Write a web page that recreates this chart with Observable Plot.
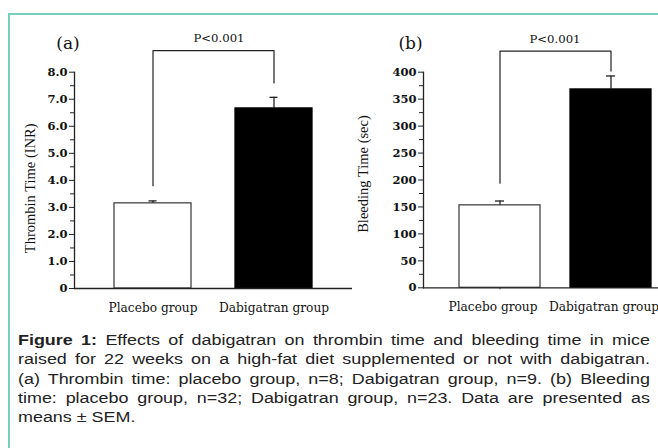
<!DOCTYPE html>
<html>
<head>
<meta charset="utf-8">
<script src="https://cdn.jsdelivr.net/npm/d3@7"></script>
<script src="https://cdn.jsdelivr.net/npm/@observablehq/plot@0.6"></script>
<style>
  html, body { margin: 0; padding: 0; background: #fff; }
  #page { position: relative; width: 658px; height: 448px; overflow: hidden; background: #fff; }
  #box { position: absolute; left: 8px; top: 13px; width: 720px; height: 500px; border-top: 2px solid #74cfbf; border-left: 2px solid #74cfbf; }
  .panel { position: absolute; top: 0; }
  #caption { position: absolute; left: 18px; top: 331px; width: 493.7px; transform: scale(1.28, 1); transform-origin: 0 0; font-family: "Liberation Sans", Arial, sans-serif; font-size: 14px; line-height: 19.3px; color: #222; }
  #caption div { text-align: justify; text-align-last: justify; white-space: nowrap; }
  #caption div.last { text-align-last: left; }
</style>
</head>
<body>
<div id="page">
  <div id="box"></div>
  <div id="panelA" class="panel" style="left:0px"></div>
  <div id="panelB" class="panel" style="left:330px"></div>
  <div id="caption"></div>
</div>
<script>
// ---- data ----
const groups = ["Placebo group", "Dabigatran group"];
const thrombinMean = [3.15, 6.66];
const thrombinSem = [0.09, 0.41];
const bleedingMean = [153, 368];
const bleedingSem = [8, 25];
const thrombinTicks = [0, 1, 2, 3, 4, 5, 6, 7, 8];
const thrombinMinor = [0.5, 1.5, 2.5, 3.5, 4.5, 5.5, 6.5, 7.5];
const bleedingTicks = [0, 50, 100, 150, 200, 250, 300, 350, 400];
const bleedingMinor = [25, 75, 125, 175, 225, 275, 325, 375];
const bracketA = [3.8, 8.8, 7.6];   // left foot, top, right foot
const bracketB = [194, 439, 402];
const pLabel = "P<0.001";
const pLabelYA = 9.25;
const pLabelYB = 462;
const yLabelA = "Thrombin Time (INR)";
const yLabelB = "Bleeding Time (sec)";
const captionLines = [
  "<b>Figure 1:</b> Effects of dabigatran on thrombin time and bleeding time in mice",
  "raised for 22 weeks on a high-fat diet supplemented or not with dabigatran.",
  "(a) Thrombin time: placebo group, n=8; Dabigatran group, n=9. (b) Bleeding",
  "time: placebo group, n=32; Dabigatran group, n=23. Data are presented as",
  "means ± SEM."
];

const serif = "DejaVu Serif";
const ink = "#111";

function panel(opts) {
  const rows = groups.map((g, i) => ({group: g, mean: opts.mean[i], sem: opts.sem[i], hi: opts.mean[i] + opts.sem[i], i}));
  const br = [
    {group: groups[0], y: opts.bracket[0]},
    {group: groups[0], y: opts.bracket[1]},
    {group: groups[1], y: opts.bracket[1]},
    {group: groups[1], y: opts.bracket[2]}
  ];
  return Plot.plot({
    width: opts.width,
    height: 320,
    marginLeft: opts.marginLeft,
    marginRight: opts.marginRight,
    marginTop: opts.marginTop,
    marginBottom: opts.marginBottom,
    style: {fontFamily: serif, fontSize: "11px", color: ink, background: "transparent", overflow: "visible"},
    x: {domain: groups, paddingInner: opts.pi, paddingOuter: opts.po, align: opts.align, axis: null},
    y: {domain: opts.yDomain, axis: null},
    marks: [
      Plot.barY(rows, {x: "group", y: "mean", fill: d => d.i === 0 ? "white" : "black", stroke: d => d.i === 0 ? "#444" : "black", strokeWidth: 1.3}),
      Plot.ruleX(rows, {x: "group", y1: "mean", y2: "hi", stroke: "#222", strokeWidth: 1.3}),
      Plot.tickY(rows, {x: "group", y: "hi", stroke: "#222", strokeWidth: 1.3, insetLeft: opts.capInset, insetRight: opts.capInset}),
      Plot.frame({anchor: "left", stroke: "#222", strokeWidth: 1.3}),
      Plot.ruleY([0], {stroke: "#222", strokeWidth: 1.3}),
      Plot.axisY({ticks: opts.ticks, tickSize: 5, tickPadding: 2, tickFormat: opts.fmt, fontWeight: "bold", fontSize: 11.5, fontFamily: serif, stroke: "#222", label: null}),
      Plot.axisY({ticks: opts.minor, tickSize: 4, tickFormat: () => "", stroke: "#222", label: null}),
      Plot.axisX({tickSize: 0, tickPadding: 15, fontSize: 12.2, fontFamily: serif, dx: opts.labelDx, label: null}),
      ...(opts.xTick ? [Plot.axisX({ticks: [groups[0]], tickSize: 2, tickFormat: () => "", stroke: "#333", label: null})] : []),
      Plot.line(br, {x: "group", y: "y", stroke: "#222", strokeWidth: 1.2}),
      Plot.text([pLabel], {x: () => groups[0], y: () => opts.pY, dx: opts.pDx, fontSize: 11.7, fontFamily: serif, textAnchor: "middle", lineAnchor: "middle", fill: ink}),
      Plot.text([opts.letter], {frameAnchor: "top-left", dx: opts.letterDx, dy: opts.letterDy, fontSize: 17, fontFamily: serif, textAnchor: "middle", lineAnchor: "middle", fill: ink}),
      Plot.text([opts.yLabel], {frameAnchor: "left", rotate: -90, dx: opts.yLabelDx, dy: opts.yLabelDy, fontSize: 14.5, fontFamily: "Liberation Serif", textAnchor: "middle", lineAnchor: "middle", fill: ink})
    ]
  });
}

const fmtA = d => d === 0 ? "0" : d.toFixed(1);
const fmtB = d => String(d);

document.getElementById("panelA").appendChild(panel({
  width: 360, marginLeft: 74, marginRight: 8, marginTop: 71.7, marginBottom: 32,
  pi: 0.36, po: 0.32, align: 0.5, yDomain: [0, 8],
  mean: thrombinMean, sem: thrombinSem, bracket: bracketA, capInset: 34.5,
  ticks: thrombinTicks, minor: thrombinMinor, fmt: fmtA, labelDx: 0, xTick: false,
  pY: pLabelYA, pDx: 66, letter: "(a)", letterDx: -6.5, letterDy: -29,
  yLabel: yLabelA, yLabelDx: -44, yLabelDy: 8
}));

document.getElementById("panelB").appendChild(panel({
  width: 328, marginLeft: 93, marginRight: 0, marginTop: 71.7, marginBottom: 32.7,
  pi: 0.27, po: 0.19, align: 0.83, yDomain: [0, 400],
  mean: bleedingMean, sem: bleedingSem, bracket: bracketB, capInset: 36,
  ticks: bleedingTicks, minor: bleedingMinor, fmt: fmtB, labelDx: -7, xTick: true,
  pY: pLabelYB, pDx: 55, letter: "(b)", letterDx: -13, letterDy: -29,
  yLabel: yLabelB, yLabelDx: -60, yLabelDy: -6
}));

const cap = document.getElementById("caption");
captionLines.forEach((t, i) => {
  const d = document.createElement("div");
  d.innerHTML = t;
  if (i === captionLines.length - 1) d.className = "last";
  cap.appendChild(d);
});
</script>
</body>
</html>
